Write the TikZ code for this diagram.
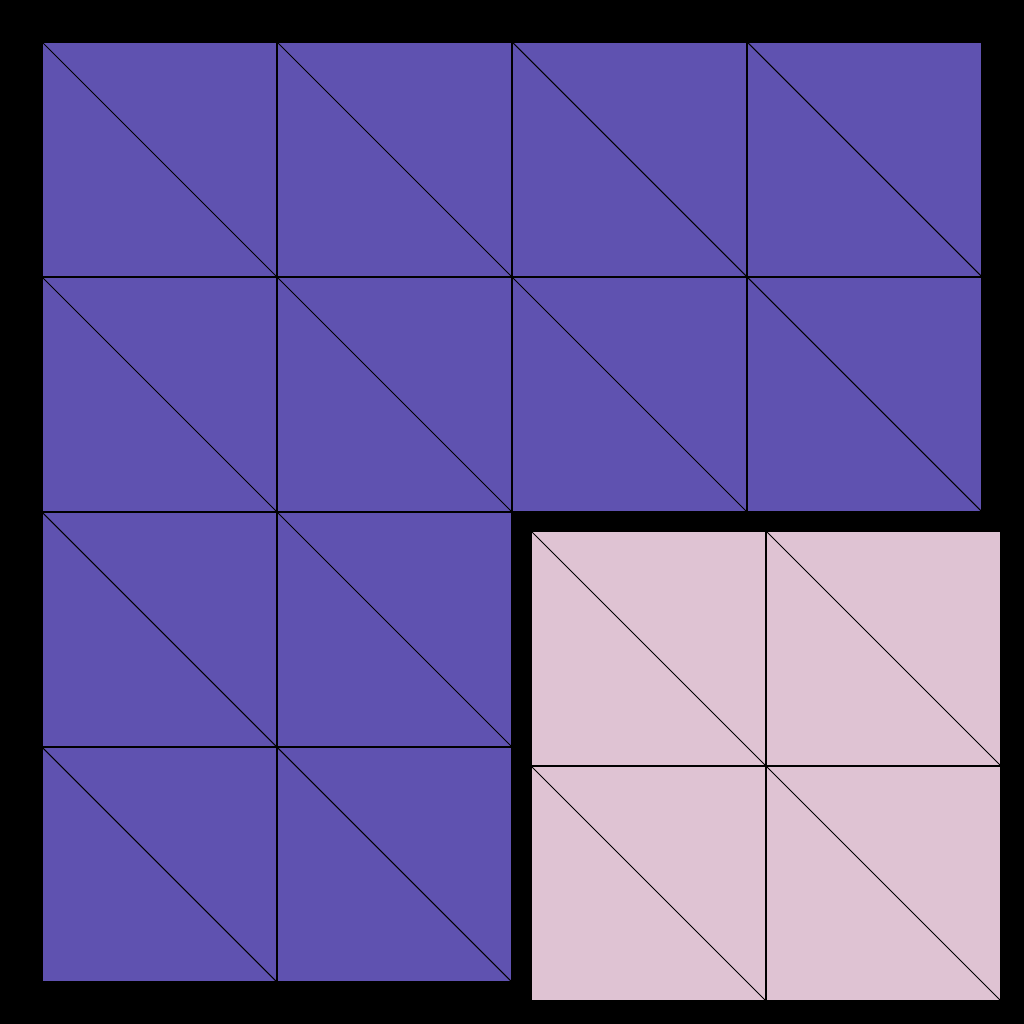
\documentclass[tikz,border=0pt]{standalone}
\usepackage{tikz}
\definecolor{tilepurple}{HTML}{5F52B0}
\definecolor{tilepink}{HTML}{DFC3D3}
\begin{document}
\begin{tikzpicture}[
      x=0.01cm, y=-0.01cm,
      cell/.style={draw=black, line width=0.3pt},
      bigtile/.style={cell, fill=tilepurple},
      smalltile/.style={cell, fill=tilepink}
    ]
    \fill[black] (0,0) rectangle (1024,1024);
    \useasboundingbox (0,0) rectangle (1024,1024);
    % purple L-shaped block
    \foreach \i in {0,...,3} {
      \foreach \j in {0,1} {
        \draw[bigtile] (42+235*\i, 42+235*\j) rectangle ++(235,235);
        \draw[cell] (42+235*\i, 42+235*\j) -- ++(235,235);
      }
    }
    \foreach \i in {0,1} {
      \foreach \j in {2,3} {
        \draw[bigtile] (42+235*\i, 42+235*\j) rectangle ++(235,235);
        \draw[cell] (42+235*\i, 42+235*\j) -- ++(235,235);
      }
    }
    % pink block
    \foreach \i in {0,1} {
      \foreach \j in {0,1} {
        \draw[smalltile] (531+235*\i, 531+235*\j) rectangle ++(235,235);
        \draw[cell] (531+235*\i, 531+235*\j) -- ++(235,235);
      }
    }
  \end{tikzpicture}
\end{document}
